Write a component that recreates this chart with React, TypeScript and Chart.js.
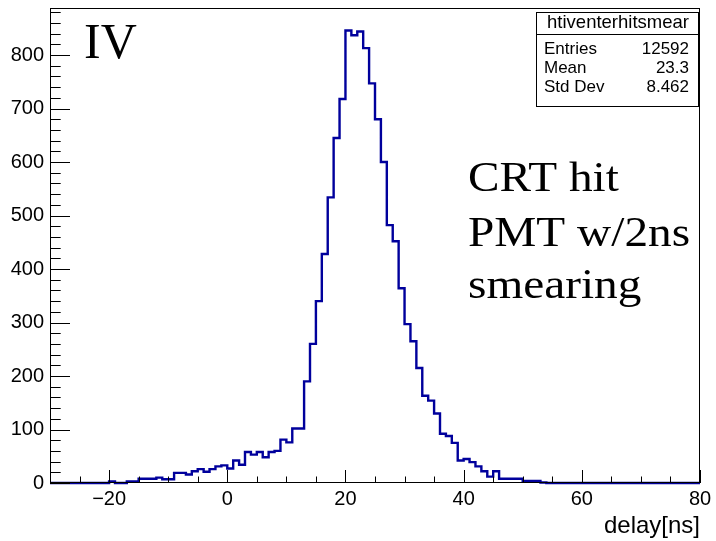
import React, { useEffect, useRef } from 'react';
import { Chart, registerables } from 'chart.js';

Chart.register(...registerables);

// Histogram: 1 ns bins from -30 to 80 ns
const binStart = -30;
const binWidth = 1;
const counts: number[] = [
  0, 0, 0, 0, 0, 0, 0, 0, 0, 0, 0, // -30 .. -20
  3, 0, 0, 3, 3, 8, 8, 8, 10, 7, 7, // -19 .. -9
  19, 19, 16, 22, 26, 21, 26, 31, // -8 .. -1
  33, 27, 42, 34, 58, 53, 58, 48, 58, 60, // 0 .. 9
  81, 76, 102, 102, 190, 260, 340, 428, 534, 645, // 10 .. 19
  718, 846, 837, 844, 813, 747, 680, 600, 482, 452, // 20 .. 29
  364, 297, 265, 215, 163, 154, 130, 92, 88, 75, // 30 .. 39
  42, 45, 39, 31, 22, 12, 22, 8, 8, 8, // 40 .. 49
  8, 4, 4, 4, 1, 0, 0, 0, 0, 0, // 50 .. 59
  0, 0, 0, 0, 0, 0, 0, 0, 0, 0, // 60 .. 69
  0, 0, 0, 0, 0, 0, 0, 0, 0, 0, // 70 .. 79
];

const xMin = -30;
const xMax = 80;
const xMajorStep = 20;
const xMinorStep = 5;
const yMin = 0;
const yMax = 888;
const yMajorStep = 100;
const yMinorStep = 20;

const xTitle = 'delay[ns]';
const statsTitle = 'htiventerhitsmear';
const statsLabels = ['Entries', 'Mean', 'Std Dev'];
const statsValues = ['12592', '23.3', '8.462'];
const panelLabel = 'IV';
const noteLines = ['CRT hit', 'PMT w/2ns', 'smearing'];

const lineColor = '#00009c';
const sansFamily = '"Liberation Sans", Arial, Helvetica, sans-serif';
const serifFamily = '"Liberation Serif", "Times New Roman", Times, serif';

const fmtTick = (v: number) => (v < 0 ? '\u2212' + Math.abs(v) : String(v));

const overlayPlugin = {
  id: 'rootOverlay',
  afterDraw(chart: any) {
    const { ctx, chartArea } = chart;
    const xs = chart.scales.x;
    const ys = chart.scales.y;
    const { left, right, top, bottom } = chartArea;
    ctx.save();
    // frame
    ctx.strokeStyle = '#000';
    ctx.lineWidth = 1;
    ctx.strokeRect(Math.round(left) + 0.5, Math.round(top) + 0.5, Math.round(right - left) - 1, Math.round(bottom - top) - 1);

    // x ticks (inside)
    ctx.beginPath();
    for (let v = xMin; v <= xMax + 1e-9; v += xMinorStep) {
      const px = Math.round(xs.getPixelForValue(v)) + 0.5;
      const len = v % xMajorStep === 0 ? 13 : 6.5;
      ctx.moveTo(px, bottom);
      ctx.lineTo(px, bottom - len);
    }
    // y ticks (inside)
    for (let v = yMin; v <= yMax + 1e-9; v += yMinorStep) {
      const py = Math.round(ys.getPixelForValue(v)) + 0.5;
      const len = v % yMajorStep === 0 ? 20 : 10.7;
      ctx.moveTo(left, py);
      ctx.lineTo(left + len, py);
    }
    ctx.stroke();

    // stats box
    const bx0 = 536, bx1 = 699, by0 = 12, by1 = 107, sep = 34;
    ctx.fillStyle = '#fff';
    ctx.fillRect(bx0, by0, bx1 - bx0, by1 - by0);
    ctx.strokeStyle = '#000';
    ctx.strokeRect(bx0 + 0.5, by0 + 0.5, bx1 - bx0 - 1, by1 - by0 - 1);
    ctx.beginPath();
    ctx.moveTo(bx0, sep + 0.5);
    ctx.lineTo(bx1, sep + 0.5);
    ctx.stroke();
    ctx.fillStyle = '#000';
    ctx.textBaseline = 'middle';
    ctx.textAlign = 'center';
    ctx.font = `18.5px ${sansFamily}`;
    ctx.fillText(statsTitle, (bx0 + bx1) / 2 + 0.5, 23);
    ctx.font = `17px ${sansFamily}`;
    const rowY = [49, 68, 87];
    statsLabels.forEach((lab, i) => {
      ctx.textAlign = 'left';
      ctx.fillText(lab, 544, rowY[i]);
      ctx.textAlign = 'right';
      ctx.fillText(statsValues[i], 689, rowY[i]);
    });

    // panel label
    ctx.textAlign = 'left';
    ctx.textBaseline = 'alphabetic';
    ctx.font = `50px ${serifFamily}`;
    ctx.fillText(panelLabel, 84, 58);

    // note lines (slightly stretched horizontally like the reference)
    ctx.font = `43px ${serifFamily}`;
    const baseY = [191, 245.5, 298];
    noteLines.forEach((t, i) => {
      ctx.save();
      ctx.translate(468, baseY[i]);
      ctx.scale(1.1, 1);
      ctx.fillText(t, 0, 0);
      ctx.restore();
    });
    ctx.restore();
  },
};

export default function App() {
  const canvasRef = useRef<HTMLCanvasElement | null>(null);

  useEffect(() => {
    const canvas = canvasRef.current;
    if (!canvas) return;
    const points = [] as { x: number; y: number }[];
    for (let i = 0; i <= counts.length; i++) {
      points.push({ x: binStart + i * binWidth, y: counts[Math.min(i, counts.length - 1)] });
    }
    const chart = new Chart(canvas, {
      type: 'line',
      data: {
        datasets: [
          {
            data: points,
            stepped: 'after',
            borderColor: lineColor,
            borderWidth: 2.4,
            pointRadius: 0,
            fill: false,
            clip: false,
          } as any,
        ],
      },
      options: {
        animation: false,
        responsive: false,
        devicePixelRatio: 1,
        layout: { padding: { left: 0, right: 16, top: 8, bottom: 0 } },
        plugins: { legend: { display: false }, tooltip: { enabled: false } },
        scales: {
          x: {
            type: 'linear',
            min: xMin,
            max: xMax,
            grid: { display: false, drawTicks: false },
            border: { display: false },
            ticks: {
              stepSize: xMajorStep,
              includeBounds: false,
              autoSkip: false,
              maxRotation: 0,
              padding: 4,
              color: '#000',
              font: { family: sansFamily, size: 20 },
              callback: (v: any) => fmtTick(Number(v)),
            },
            title: {
              display: true,
              text: xTitle,
              align: 'end',
              color: '#000',
              font: { family: sansFamily, size: 24, lineHeight: 1.2 },
              padding: 0,
            },
            afterFit: (s: any) => {
              s.height = 58;
              s.paddingLeft = 0;
              s.paddingRight = 0;
            },
          },
          y: {
            type: 'linear',
            min: yMin,
            max: yMax,
            grid: { display: false, drawTicks: false },
            border: { display: false },
            ticks: {
              stepSize: yMajorStep,
              includeBounds: false,
              padding: 6,
              color: '#000',
              font: { family: sansFamily, size: 20 },
              callback: (v: any) => fmtTick(Number(v)),
            },
            afterFit: (s: any) => {
              s.width = 50;
              s.paddingTop = 0;
              s.paddingBottom = 0;
            },
          },
        },
      } as any,
      plugins: [overlayPlugin],
    });
    return () => chart.destroy();
  }, []);

  return (
    <div style={{ position: 'fixed', left: 0, top: 0, width: 716, height: 541, background: '#fff' }}>
      <canvas ref={canvasRef} width={716} height={541} />
    </div>
  );
}
